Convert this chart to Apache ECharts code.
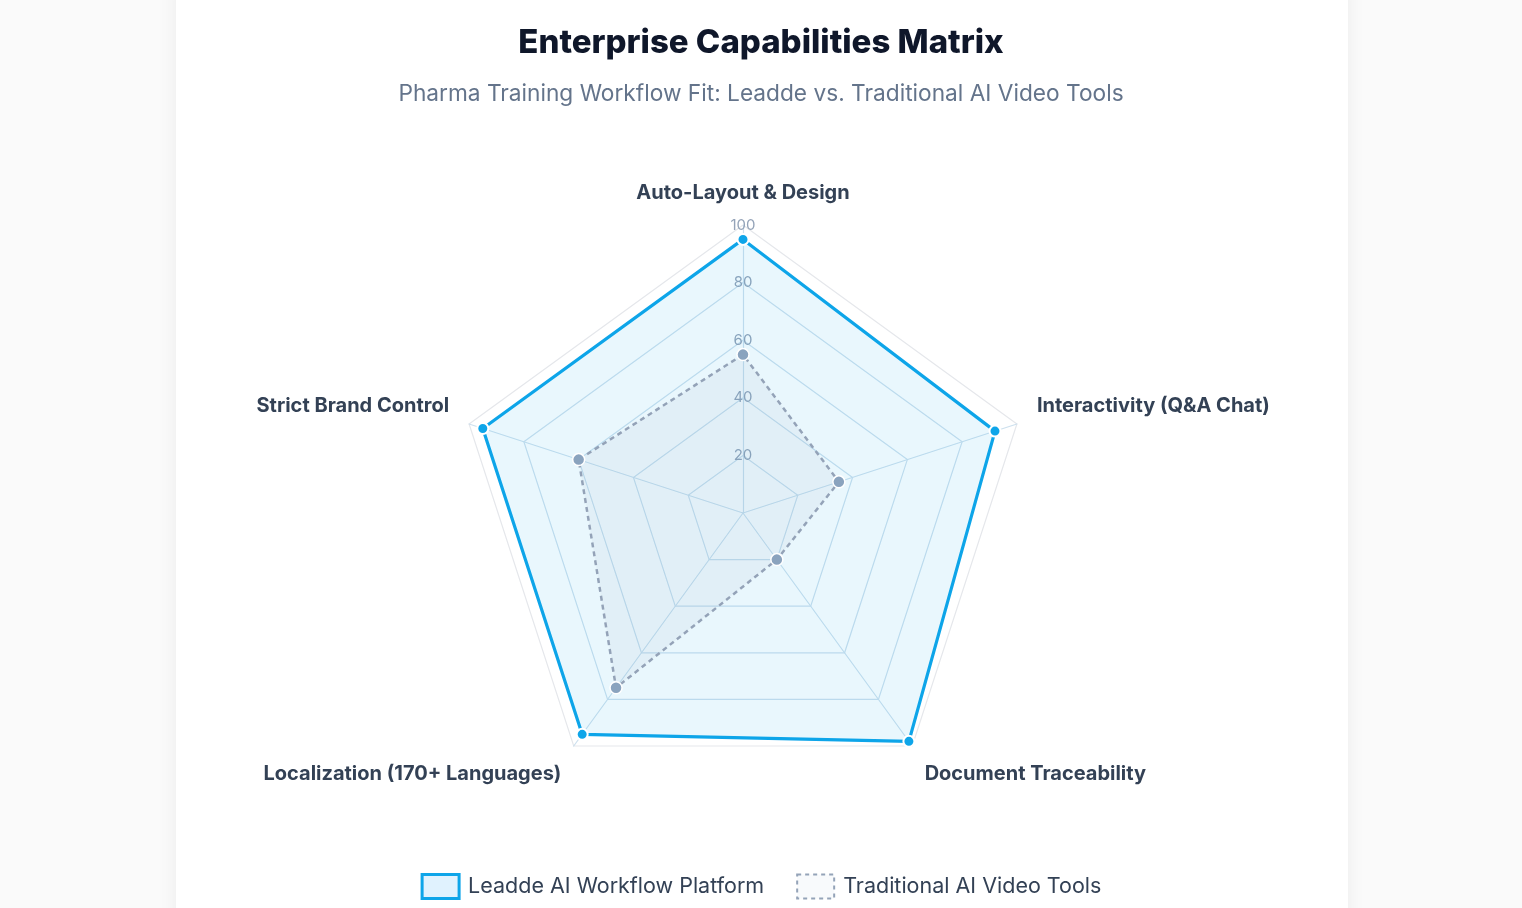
<!DOCTYPE html>
<html lang="en">
<head>
<meta charset="UTF-8">
<title>Enterprise Capabilities Matrix</title>
<script src="https://cdn.jsdelivr.net/npm/echarts@6.0.0/dist/echarts.min.js"></script>
<style>
    * { margin: 0; padding: 0; }
    html, body { width: 100%; height: 100%; background: #fafafa; overflow: hidden; }
    .card {
        position: absolute;
        left: 176px;
        width: 1172px;
        top: -20px;
        bottom: -40px;
        background: #fff;
        box-shadow: 0 0 18px rgba(0,0,0,0.06);
    }
    #chart { position: absolute; left: 0; top: 0; width: 1522px; height: 908px; }
</style>
</head>
<body>
<div class="card"></div>
<div id="chart"></div>
<script>
// axes of the radar, clockwise from the top
const capabilities = [
    'Auto-Layout & Design',
    'Interactivity (Q&A Chat)',
    'Document Traceability',
    'Localization (170+ Languages)',
    'Strict Brand Control'
];
const seriesNames = ['Leadde AI Workflow Platform', 'Traditional AI Video Tools'];
const leaddeScores = [95, 92, 98, 95, 95];
const traditionalScores = [55, 35, 20, 75, 60];
const scaleMax = 100;

// echarts lays indicators out counter-clockwise, so walk them backwards after the first
const drawOrder = [0, 4, 3, 2, 1];
const pick = arr => drawOrder.map(i => arr[i]);

// small nudges so names sit where the original put them
const nameNudge = ['top', 'up', 'down', 'down', 'up'];

const chart = echarts.init(document.getElementById('chart'));

const indicators = pick(capabilities).map((name, i) => {
    const ind = { name: name, min: 0, max: scaleMax };
    if (i === 0) {
        ind.axisLabel = {
            show: true,
            showMinLabel: false,
            color: '#94a3b8',
            fontSize: 15,
            fontFamily: 'Inter',
            margin: 0,
            align: 'center',
            verticalAlign: 'middle'
        };
    }
    return ind;
});

const nameStyle = { fontFamily: 'Inter', fontSize: 20, fontWeight: 'bold', color: '#334155' };

chart.setOption({
    animation: false,
    title: [
        {
            text: 'Enterprise Capabilities Matrix',
            left: 'center',
            top: 22,
            textStyle: { fontFamily: 'Inter', fontSize: 33, fontWeight: 800, color: '#0f172a' }
        },
        {
            text: 'Pharma Training Workflow Fit: Leadde vs. Traditional AI Video Tools',
            left: 'center',
            top: 78,
            textStyle: { fontFamily: 'Inter', fontSize: 22.7, fontWeight: 'normal', color: '#64748b' }
        }
    ],
    legend: {
        top: 868,
        left: 'center',
        itemWidth: 37,
        itemHeight: 24,
        itemGap: 32,
        textStyle: { fontFamily: 'Inter', fontSize: 21.5, color: '#334155', padding: [0, 0, 0, 4] },
        data: [
            {
                name: seriesNames[0],
                icon: 'rect',
                itemStyle: { color: '#e0f2fe', borderColor: '#0ea5e9', borderWidth: 3 }
            },
            {
                name: seriesNames[1],
                icon: 'rect',
                itemStyle: { color: '#f8fafc', borderColor: '#94a3b8', borderWidth: 2, borderType: [4, 4] }
            }
        ]
    },
    radar: {
        center: [743, 513],
        radius: 288,
        startAngle: 90,
        splitNumber: 5,
        shape: 'polygon',
        indicator: indicators,
        axisName: {
            formatter: function (name) {
                const i = capabilities.indexOf(name);
                return '{' + nameNudge[i] + '|' + name + '}';
            },
            rich: {
                top: Object.assign({ padding: [0, 0, 1, 0] }, nameStyle),
                up: Object.assign({ padding: [0, 0, 24, 0] }, nameStyle),
                down: Object.assign({ padding: [22, 0, 0, 0] }, nameStyle)
            }
        },
        nameGap: 21,
        axisLine: { lineStyle: { color: '#cde0ee', width: 1.2 } },
        splitLine: {
            lineStyle: {
                color: ['#cde0ee', '#cde0ee', '#cde0ee', '#cde0ee', '#cde0ee', '#e5e7eb'],
                width: 1.2
            }
        },
        splitArea: { show: false }
    },
    series: [{
        type: 'radar',
        symbol: 'circle',
        data: [
            {
                name: seriesNames[0],
                value: pick(leaddeScores),
                symbolSize: 11,
                lineStyle: { color: '#0ea5e9', width: 3.2 },
                areaStyle: { color: 'rgba(14,165,233,0.13)' },
                itemStyle: { color: '#0ea5e9', borderColor: '#fff', borderWidth: 2 }
            },
            {
                name: seriesNames[1],
                value: pick(traditionalScores),
                symbolSize: 12,
                lineStyle: { color: '#94a3b8', width: 2.5, type: [5, 4] },
                areaStyle: { color: 'rgba(148,163,184,0.12)' },
                itemStyle: { color: '#8aa3be', borderColor: '#fff', borderWidth: 1.5 }
            }
        ]
    }]
});
</script>
</body>
</html>
